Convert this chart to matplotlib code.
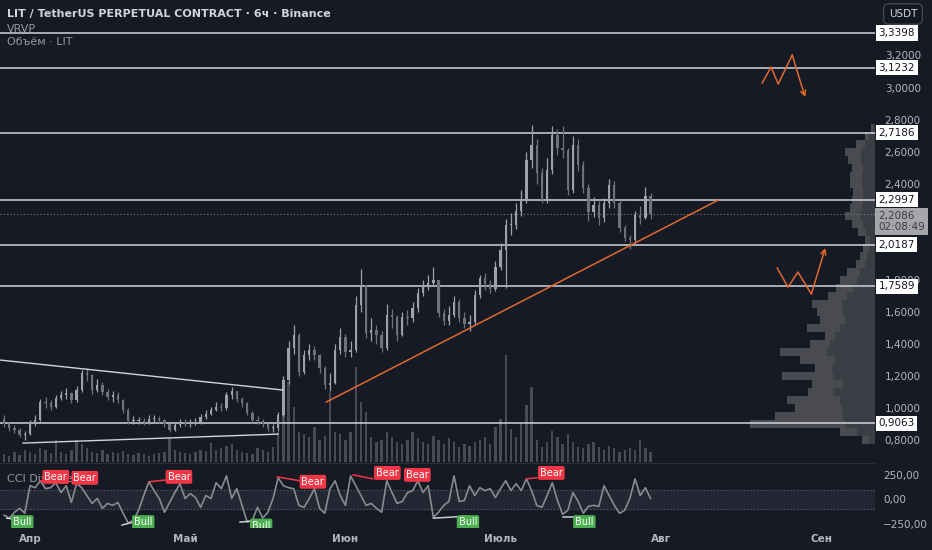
import numpy as np
import matplotlib
matplotlib.use("Agg")
import matplotlib.pyplot as plt
from matplotlib.transforms import blended_transform_factory

BG = "#161a25"
TXT = "#b2b5be"
ORANGE = "#e2692c"
LINE = "#d1d4dc"

# days counted from 1 April; one candle per day
days = np.arange(-5, 121)
first_open = 0.93
closes = [
    0.900, 0.876, 0.863, 0.832, 0.840,
    0.907, 0.926, 1.038, 1.032, 1.007, 1.063, 1.082, 1.094, 1.050, 1.113,
    1.219, 1.206, 1.113, 1.144, 1.100, 1.069, 1.082, 1.050, 0.988, 0.920,
    0.920, 0.920, 0.913, 0.932, 0.932, 0.926, 0.900, 0.863, 0.894, 0.913,
    0.907, 0.907, 0.913, 0.944, 0.963, 0.988, 1.007, 1.001, 1.082, 1.107,
    1.057, 1.032, 0.970, 0.926, 0.920, 0.900, 0.876, 0.876, 0.957, 1.175,
    1.375, 1.456, 1.225, 1.331, 1.362, 1.331, 1.250, 1.144, 1.156, 1.362,
    1.443, 1.350, 1.362, 1.643, 1.768, 1.468, 1.487, 1.456, 1.375, 1.580,
    1.568, 1.456, 1.568, 1.562, 1.624, 1.718, 1.768, 1.780, 1.799, 1.593,
    1.543, 1.580, 1.662, 1.562, 1.525, 1.537, 1.705, 1.811, 1.774, 1.743,
    1.880, 1.986, 2.142, 2.142, 2.230, 2.298, 2.548, 2.641, 2.466, 2.298,
    2.485, 2.704, 2.622, 2.610, 2.360, 2.641, 2.516, 2.373, 2.223, 2.267,
    2.186, 2.280, 2.392, 2.280, 2.124, 2.061, 2.049, 2.205, 2.186, 2.323, 2.2086,
]
highs = [
    0.960, 0.915, 0.895, 0.875, 0.860,
    0.925, 0.960, 1.060, 1.070, 1.050, 1.085, 1.110, 1.125, 1.100, 1.140,
    1.240, 1.250, 1.210, 1.180, 1.160, 1.120, 1.110, 1.100, 1.060, 1.000,
    0.950, 0.945, 0.940, 0.955, 0.960, 0.950, 0.935, 0.910, 0.910, 0.935,
    0.930, 0.930, 0.940, 0.965, 0.990, 1.010, 1.040, 1.030, 1.100, 1.130,
    1.110, 1.070, 1.040, 0.980, 0.950, 0.935, 0.910, 0.900, 0.975, 1.200,
    1.420, 1.520, 1.470, 1.360, 1.400, 1.390, 1.340, 1.260, 1.220, 1.400,
    1.500, 1.460, 1.420, 1.700, 1.870, 1.760, 1.560, 1.520, 1.480, 1.650,
    1.620, 1.580, 1.600, 1.610, 1.660, 1.750, 1.800, 1.830, 1.880, 1.800,
    1.620, 1.640, 1.700, 1.680, 1.600, 1.580, 1.740, 1.830, 1.840, 1.800,
    1.920, 2.030, 2.180, 2.220, 2.280, 2.360, 2.600, 2.766, 2.680, 2.500,
    2.560, 2.760, 2.740, 2.760, 2.620, 2.700, 2.680, 2.540, 2.400, 2.320,
    2.290, 2.310, 2.430, 2.420, 2.300, 2.140, 2.080, 2.230, 2.260, 2.380, 2.340,
]
lows = [
    0.880, 0.860, 0.845, 0.820, 0.800,
    0.830, 0.890, 0.920, 1.000, 0.990, 1.000, 1.050, 1.060, 1.030, 1.040,
    1.100, 1.170, 1.090, 1.100, 1.080, 1.050, 1.040, 1.030, 0.970, 0.900,
    0.900, 0.900, 0.895, 0.900, 0.910, 0.905, 0.885, 0.850, 0.855, 0.880,
    0.890, 0.885, 0.895, 0.900, 0.935, 0.955, 0.980, 0.980, 0.990, 1.060,
    1.040, 1.010, 0.955, 0.910, 0.900, 0.880, 0.860, 0.850, 0.860, 0.950,
    1.150, 1.340, 1.200, 1.210, 1.300, 1.300, 1.220, 1.120, 1.110, 1.150,
    1.340, 1.320, 1.320, 1.350, 1.600, 1.440, 1.420, 1.400, 1.350, 1.360,
    1.500, 1.420, 1.450, 1.520, 1.540, 1.600, 1.700, 1.740, 1.760, 1.570,
    1.520, 1.520, 1.570, 1.540, 1.500, 1.480, 1.520, 1.690, 1.740, 1.720,
    1.730, 1.860, 1.750, 2.080, 2.120, 2.200, 2.280, 2.500, 2.400, 2.280,
    2.280, 2.460, 2.580, 2.560, 2.330, 2.340, 2.480, 2.340, 2.170, 2.190,
    2.140, 2.160, 2.250, 2.250, 2.100, 2.040, 1.990, 2.030, 2.150, 2.180, 2.180,
]
volumes = [
    8, 6, 10, 7, 12,
    10, 8, 14, 12, 9, 22, 10, 8, 12, 22,
    18, 14, 10, 9, 12, 8, 10, 9, 11, 8,
    7, 9, 8, 6, 8, 9, 10, 24, 12, 10,
    9, 8, 10, 12, 11, 19, 12, 14, 16, 18,
    12, 10, 9, 8, 14, 12, 10, 15, 30, 75,
    80, 55, 30, 28, 25, 35, 22, 26, 70, 30,
    28, 22, 30, 95, 60, 50, 25, 20, 22, 30,
    25, 20, 18, 22, 30, 24, 20, 18, 26, 22,
    18, 24, 20, 15, 18, 16, 20, 22, 25, 18,
    35, 43, 107, 33, 25, 40, 57, 75, 22, 15,
    20, 31, 25, 18, 28, 20, 15, 14, 18, 20,
    15, 12, 16, 14, 10, 12, 14, 12, 22, 14, 10,
]
cci = [
    -160, -190, -130, -90, -140,
    140, 120, 190, 110, 120, 170, 70, 140, -30, 160,
    120, 40, -40, 10, -90, -40, -60, -30, -140, -240,
    -210, -110, 40, 180, 90, 10, -130, -30, 70, 160,
    10, 60, 20, -80, 40, 10, 170, 110, 240, 10,
    110, -60, -230, -210, -80, -190, -130, 10, 220, 140,
    120, 110, -60, -80, 10, 110, -90, -140, 107, 190,
    40, -60, 240, 140, 40, -60, -40, -90, -130, 190,
    70, -40, -20, 70, 90, 190, 70, 140, -180, -130,
    -60, -20, 240, -20, -10, 140, 40, 120, 90, 110,
    20, 110, 190, 90, 160, 90, 210, 90, -60, -80,
    40, 170, -10, -150, -110, 70, -20, -140, -70, -60,
    -70, 140, 40, -60, -140, -110, 10, 210, 40, 120, 10,
]

# visible range volume profile (price bins of 0.05)
vp_prices = np.round(np.arange(0.80, 2.751, 0.05), 2)
vp_total = [13, 35, 125, 100, 80, 88, 67, 63, 93, 60, 75, 95, 65, 50, 68, 55, 58, 63, 47, 39,
            35, 28, 19, 15, 12, 10, 17, 23, 30, 25, 23, 22, 25, 25, 23, 27, 30, 19, 10, 4]
vp_inner = [6, 18, 30, 32, 33, 35, 42, 32, 42, 43, 40, 48, 45, 40, 35, 30, 32, 33, 28, 22,
            18, 15, 10, 8, 6, 5, 9, 12, 15, 13, 12, 12, 13, 13, 12, 14, 14, 10, 6, 2]

levels = [3.3398, 3.1232, 2.7186, 2.2997, 2.0187, 1.7589, 0.9063]
last_price = 2.2086

# drawings (day, price)
trend_days, trend_prices = [57.3, 133.1], [1.038, 2.298]
wedge_top_days, wedge_top_prices = [-5.8, 48.9], [1.300, 1.113]
wedge_bot_days, wedge_bot_prices = [-1.35, 48.0], [0.782, 0.838]
zz_up_days = [141.6, 143.3, 144.7, 147.4, 149.9]
zz_up_prices = [3.028, 3.128, 3.022, 3.203, 2.940]
zz_lo_days = [144.5, 146.6, 148.5, 151.1, 153.8]
zz_lo_prices = [1.874, 1.755, 1.849, 1.712, 1.999]

# divergence labels (day, cci)
bear_labels = [(5.0, 230), (10.6, 220), (28.8, 230), (54.7, 180), (69.1, 270), (74.9, 250), (100.8, 270)]
bull_labels = [(-1.5, -230), (21.9, -230), (44.7, -265), (84.7, -230), (107.2, -230)]
bear_lines = [((2, 190), (5.5, 175)), ((23, 180), (26.5, 200)), ((47.8, 230), (52.2, 190)),
              ((62.5, 250), (66.3, 210)), ((96, 210), (98, 220))]
bull_lines = [((-4.5, -190), (-1.5, -210)), ((17.8, -260), (20, -230)), ((40.6, -230), (44.9, -210)),
              ((78, -190), (84.5, -170)), ((103, -180), (107.4, -180))]

months = [0, 30, 61, 91, 122, 153]
month_labels = ["Апр", "Май", "Июн", "Июль", "Авг", "Сен"]

XMIN, XMAX = -5.8, 163.4
YMIN, YMAX = 0.664, 3.546

plt.rcParams["font.family"] = ["DejaVu Sans"]
fig = plt.figure(figsize=(9.32, 5.5), dpi=100, facecolor=BG)

# ---- price pane
ax = fig.add_axes([0, 0.16, 0.9388, 0.84])
ax.set_facecolor(BG)
ax.set_xlim(XMIN, XMAX)
ax.set_ylim(YMIN, YMAX)
for s in ax.spines.values():
    s.set_visible(False)

# volume histogram at bottom of the pane
vol_scale = (YMAX - YMIN) * 107 / 462 / max(volumes)
ax.bar(days, np.array(volumes) * vol_scale, bottom=YMIN, width=0.45,
       color="#6a6d78", alpha=0.6, zorder=1, linewidth=0)

# volume profile anchored to the right edge
vp_scale = 0.143 * (XMAX - XMIN) / max(vp_total)
vt = np.array(vp_total) * vp_scale
vi = np.array(vp_inner) * vp_scale
ax.barh(vp_prices, vt, left=XMAX - vt, height=0.05, color="#4a4b51", zorder=1, linewidth=0)
ax.barh(vp_prices, vi, left=XMAX - vi, height=0.05, color="#3b3d45", zorder=1.1, linewidth=0)

# candles
c = np.array(closes)
o = np.array([first_open] + closes[:-1])
up = c >= o
col = np.where(up, "#9ea1aa", "#6f727c")
ax.vlines(days, lows, highs, colors=col, lw=0.9, zorder=3)
ax.bar(days, np.maximum(np.abs(c - o), 0.004), bottom=np.minimum(o, c), width=0.45,
       color=col, zorder=3, linewidth=0)

# horizontal levels
for lvl in levels:
    ax.axhline(lvl, color=LINE, lw=1.1, zorder=2)
ax.axhline(last_price, color="#787b86", lw=0.8, ls=(0, (1, 2)), zorder=2)

# trend lines and zigzags
ax.plot(wedge_top_days, wedge_top_prices, color=LINE, lw=1.0, zorder=4)
ax.plot(wedge_bot_days, wedge_bot_prices, color=LINE, lw=1.0, zorder=4)
ax.plot(trend_days, trend_prices, color=ORANGE, lw=1.1, zorder=4)
for zd, zp in ((zz_up_days, zz_up_prices), (zz_lo_days, zz_lo_prices)):
    ax.plot(zd[:-1], zp[:-1], color=ORANGE, lw=1.1, zorder=4)
    ax.annotate("", xy=(zd[-1], zp[-1]), xytext=(zd[-2], zp[-2]),
                arrowprops=dict(arrowstyle="->", color=ORANGE, lw=1.1, mutation_scale=9,
                                shrinkA=0, shrinkB=0), zorder=4)

# right price scale (2,0 and 2,2 sit under the level / last price boxes)
ticks = np.round(np.arange(0.8, 3.21, 0.2), 1)
hidden = (2.0, 2.2)
ax.yaxis.tick_right()
ax.set_yticks(ticks)
ax.set_yticklabels(["" if t in hidden else f"{t:.4f}".replace(".", ",") for t in ticks])
ax.tick_params(axis="y", length=0, pad=7, colors=TXT, labelsize=7.5)
ax.tick_params(axis="x", bottom=False, labelbottom=False)

tr = blended_transform_factory(ax.transAxes, ax.transData)
for lvl in levels:
    ax.text(1.004, lvl, f"{lvl:.4f}".replace(".", ","), transform=tr, ha="left", va="center",
            fontsize=7.5, color="#131722", clip_on=False, zorder=10,
            bbox=dict(boxstyle="square,pad=0.25", fc="white", ec="none"))
ax.text(1.004, last_price + 0.022, f"{last_price:.4f}".replace(".", ",") + "\n02:08:49",
        transform=tr, ha="left", va="top", fontsize=7.5, color="#3a3c42", clip_on=False,
        zorder=10, linespacing=1.15,
        bbox=dict(boxstyle="square,pad=0.3", fc="#a5a6a9", ec="none"))

# ---- CCI pane
ax2 = fig.add_axes([0, 0.04, 0.9388, 0.118])
ax2.set_facecolor(BG)
ax2.set_xlim(XMIN, XMAX)
ax2.set_ylim(-290, 370)
for s in ax2.spines.values():
    s.set_visible(False)
ax2.axhline(370, color="#2a2e39", lw=1.5)
ax2.axhspan(-100, 100, color="#232733", zorder=0)
ax2.axhline(100, color="#5d606b", lw=0.8, ls=(0, (1, 2)))
ax2.axhline(-100, color="#5d606b", lw=0.8, ls=(0, (1, 2)))
ax2.plot(days, cci, color="#8a8b8f", lw=1.2, zorder=2)

ax2.text(0.008, 0.76, "CCI Divergence", transform=ax2.transAxes, fontsize=8,
         color="#9598a1", va="center", zorder=1)
for (p0, p1) in bear_lines:
    ax2.plot([p0[0], p1[0]], [p0[1], p1[1]], color="#f23645", lw=1.1, zorder=3)
for (p0, p1) in bull_lines:
    ax2.plot([p0[0], p1[0]], [p0[1], p1[1]], color="#c9ccd4", lw=1.1, zorder=3)
for d, v in bear_labels:
    ax2.text(d, v, "Bear", ha="center", va="center", fontsize=7, color="white", zorder=5,
             bbox=dict(boxstyle="round,pad=0.2", fc="#f23645", ec="none"))
for d, v in bull_labels:
    ax2.text(d, v, "Bull", ha="center", va="center", fontsize=7, color="white", zorder=5,
             bbox=dict(boxstyle="round,pad=0.2", fc="#4caf50", ec="none"), clip_on=True)

ax2.yaxis.tick_right()
ax2.set_yticks([-250, 0, 250])
ax2.set_yticklabels(["\u2212250,00", "0,00", "250,00"])
ax2.tick_params(axis="y", length=0, pad=6, colors=TXT, labelsize=7.5)
ax2.set_xticks(months)
ax2.set_xticklabels(month_labels, fontweight="bold")
ax2.tick_params(axis="x", length=0, pad=4, colors=TXT, labelsize=7.5)

# ---- header texts
fig.text(7 / 932, 1 - 14 / 550, "LIT / TetherUS PERPETUAL CONTRACT · 6ч · Binance",
         fontsize=8, color="#d1d4dc", fontweight="bold", va="center")
fig.text(7 / 932, 1 - 29 / 550, "VRVP", fontsize=8, color="#9598a1", va="center")
fig.text(7 / 932, 1 - 42 / 550, "Объём · LIT", fontsize=8, color="#9598a1", va="center")
fig.text(903 / 932, 1 - 14 / 550, "USDT", fontsize=7.5, color="#d1d4dc", ha="center", va="center",
         bbox=dict(boxstyle="round,pad=0.5", fc="#131722", ec="#434651"))

fig.savefig("out.png", dpi=100, facecolor=BG)
